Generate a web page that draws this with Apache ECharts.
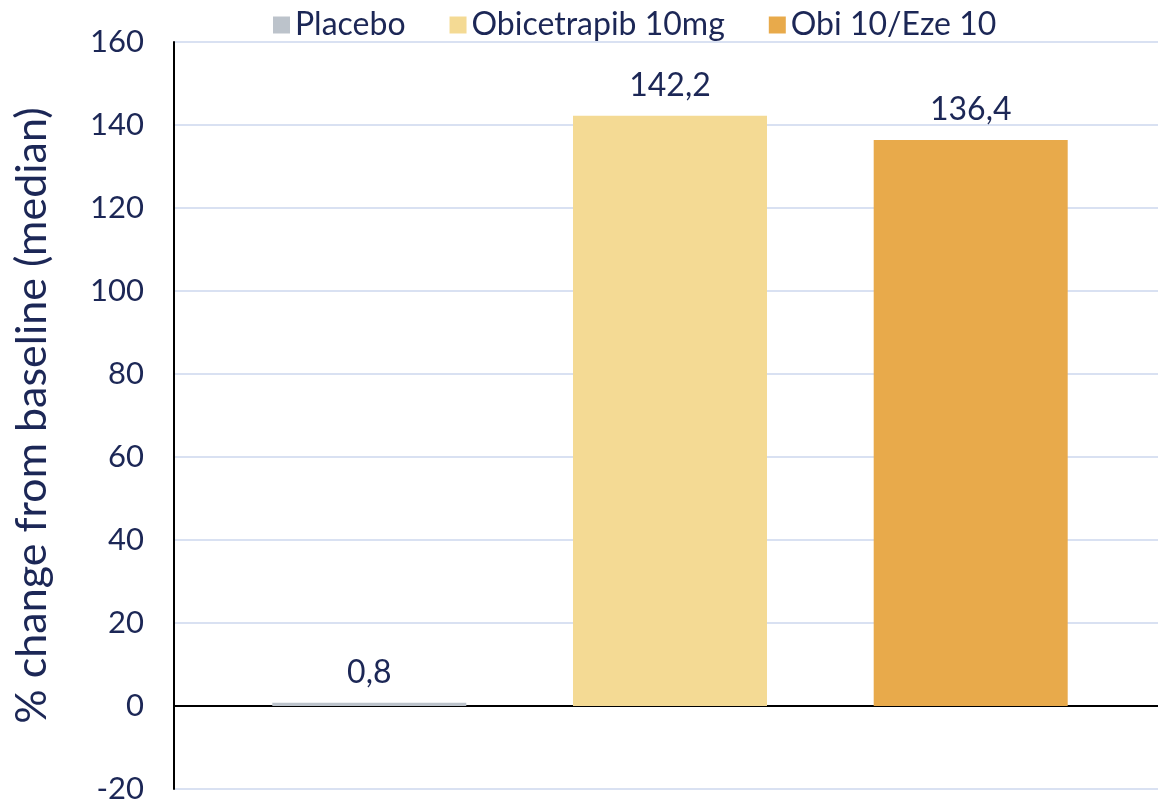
<!DOCTYPE html>
<html>
<head>
<meta charset="utf-8">
<script src="https://cdn.jsdelivr.net/npm/echarts@6/dist/echarts.min.js"></script>
<style>
  html, body { margin: 0; padding: 0; background: #fff; }
  #chart { width: 1158px; height: 799px; }
</style>
</head>
<body>
<div id="chart"></div>
<script>
// Median % change from baseline per treatment arm
const categories = [''];
const seriesNames = ['Placebo', 'Obicetrapib 10mg', 'Obi 10/Eze 10'];
const placebo = [0.8];
const obicetrapib = [142.2];
const obiEze = [136.4];
const seriesColors = ['#bcc3cb', '#f4da94', '#e8aa4b'];

const textColor = '#1c2756';
const fontFamily = 'Lato, "Noto Sans", sans-serif';

const valueSets = [placebo, obicetrapib, obiEze];

const chart = echarts.init(document.getElementById('chart'));
chart.setOption({
  animation: false,
  textStyle: { fontFamily: fontFamily },
  legend: {
    top: 4,
    left: 268,
    itemWidth: 17,
    itemHeight: 17,
    itemGap: 44,
    icon: 'rect',
    textStyle: { fontSize: 32, color: textColor, fontFamily: fontFamily },
    data: seriesNames
  },
  grid: {
    left: 174, right: -8, top: 42, bottom: 10,
    containLabel: false,
    outerBoundsMode: 'none'
  },
  xAxis: {
    type: 'category',
    data: categories,
    axisLine: { onZero: true, lineStyle: { color: '#000', width: 2 } },
    axisTick: { show: false },
    axisLabel: { show: false }
  },
  yAxis: {
    type: 'value',
    min: -20,
    max: 160,
    interval: 20,
    name: '% change from baseline (median)',
    nameLocation: 'middle',
    nameGap: 120,
    nameTextStyle: { fontSize: 43, color: textColor, fontFamily: fontFamily },
    axisLine: { show: true, lineStyle: { color: '#000', width: 2 } },
    axisTick: { show: false },
    axisLabel: { fontSize: 31, color: textColor, margin: 30, fontFamily: fontFamily },
    splitLine: { lineStyle: { color: '#d9e1f2', width: 2 } }
  },
  series: seriesNames.map((name, i) => ({
    name: name,
    type: 'bar',
    data: valueSets[i],
    barWidth: 194,
    barGap: '55%',
    itemStyle: { color: seriesColors[i] },
    label: {
      show: true,
      position: 'top',
      distance: 14,
      fontSize: 32,
      color: textColor,
      fontFamily: fontFamily,
      formatter: p => String(p.value).replace('.', ',')
    }
  }))
});
</script>
</body>
</html>
